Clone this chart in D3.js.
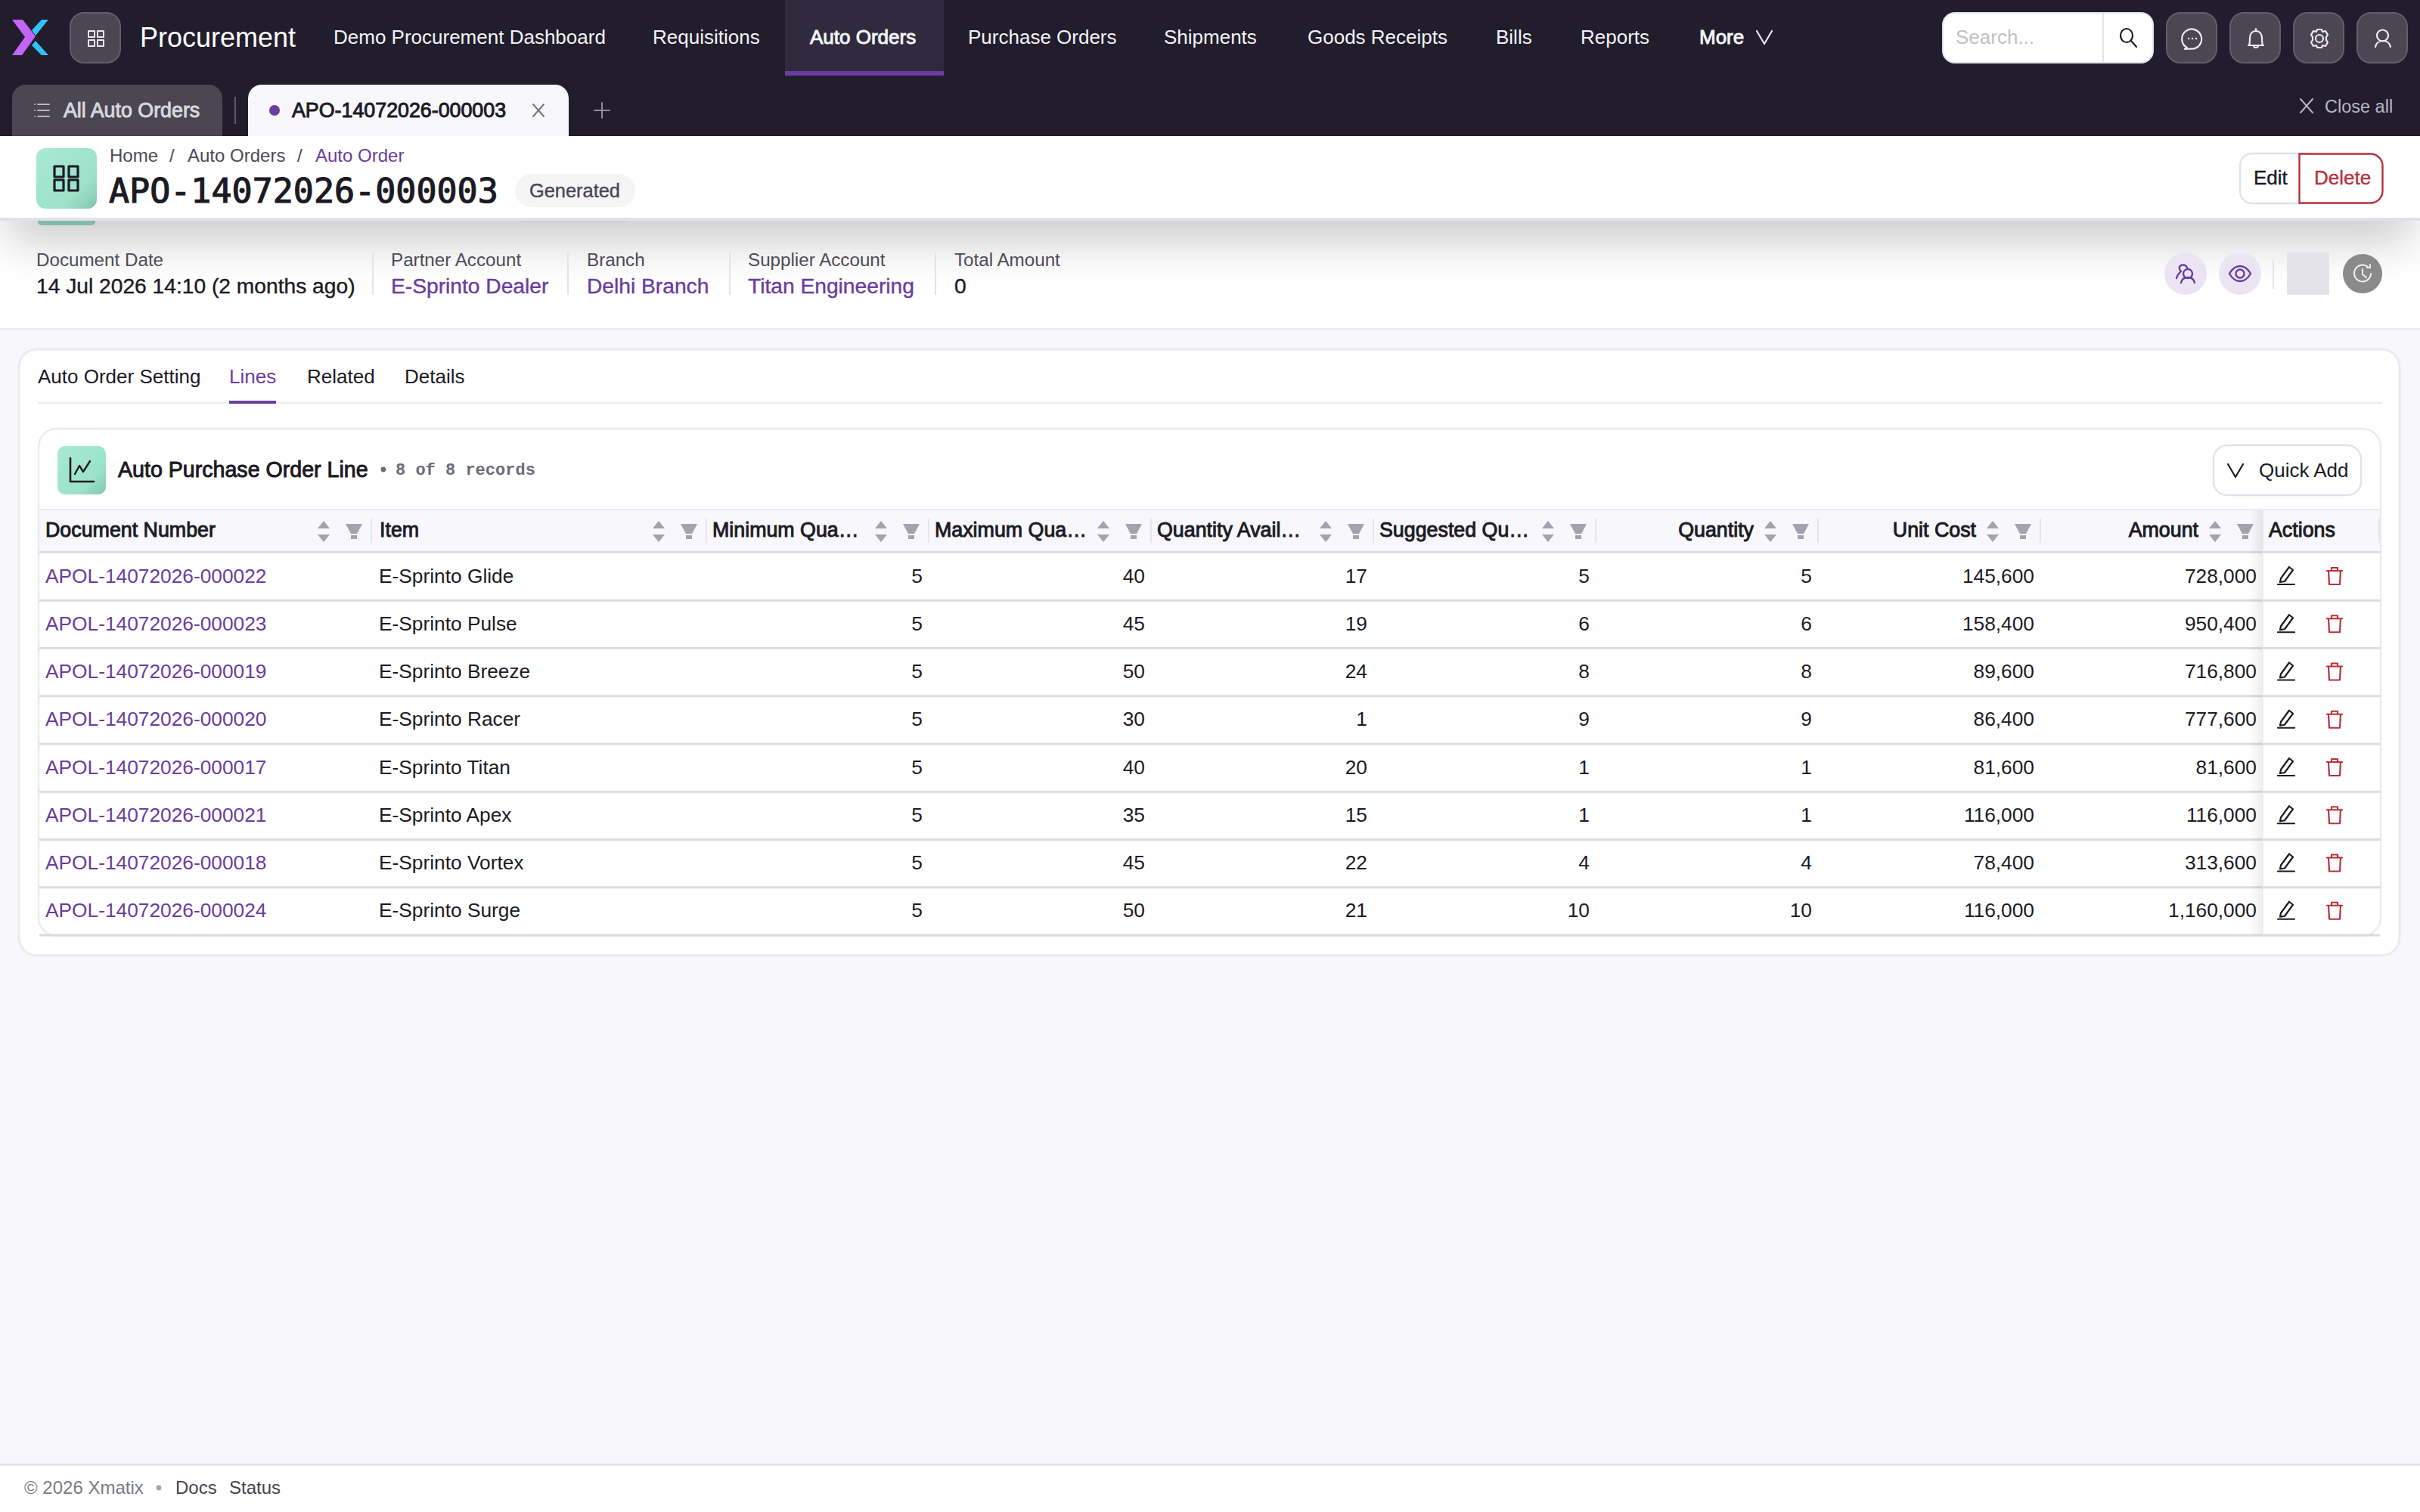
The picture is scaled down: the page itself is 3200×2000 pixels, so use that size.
<!DOCTYPE html>
<html>
<head>
<meta charset="utf-8">
<script src="https://cdn.jsdelivr.net/npm/d3@7"></script>
<style>
  html, body { margin: 0; padding: 0; background: #f7f7fc; }
  svg { display: block; }
  text { font-family: "Liberation Sans", Arial, sans-serif; white-space: pre; }
</style>
</head>
<body>
<div id="page"></div>
<script>
// table data
const columnTitles = ["Document Number", "Item", "Minimum Qua…", "Maximum Qua…", "Quantity Avail…", "Suggested Qu…", "Quantity", "Unit Cost", "Amount"];
const documentNumbers = ["APOL-14072026-000022", "APOL-14072026-000023", "APOL-14072026-000019", "APOL-14072026-000020", "APOL-14072026-000017", "APOL-14072026-000021", "APOL-14072026-000018", "APOL-14072026-000024"];
const items = ["E-Sprinto Glide", "E-Sprinto Pulse", "E-Sprinto Breeze", "E-Sprinto Racer", "E-Sprinto Titan", "E-Sprinto Apex", "E-Sprinto Vortex", "E-Sprinto Surge"];
const minimumQty = [5, 5, 5, 5, 5, 5, 5, 5];
const maximumQty = [40, 45, 50, 30, 40, 35, 45, 50];
const availableQty = [17, 19, 24, 1, 20, 15, 22, 21];
const suggestedQty = [5, 6, 8, 9, 1, 1, 4, 10];
const quantity = [5, 6, 8, 9, 1, 1, 4, 10];
const unitCost = [145600, 158400, 89600, 86400, 81600, 116000, 78400, 116000];
const amount = [728000, 950400, 716800, 777600, 81600, 116000, 313600, 1160000];

// page chrome text
const navItems = ["Demo Procurement Dashboard", "Requisitions", "Auto Orders", "Purchase Orders", "Shipments", "Goods Receipts", "Bills", "Reports", "More"];
const detailTabs = ["Auto Order Setting", "Lines", "Related", "Details"];
const infoLabels = ["Document Date", "Partner Account", "Branch", "Supplier Account", "Total Amount"];
const infoValues = ["14 Jul 2026 14:10 (2 months ago)", "E-Sprinto Dealer", "Delhi Branch", "Titan Engineering", "0"];

const W = 3200, H = 2000;
const purple = "#6a3d9e", ink = "#1c1a24", dark = "#211d2c", btn = "#4a4652", red = "#b5323f";

const svg = d3.select("#page").append("svg").attr("width", W).attr("height", H).attr("viewBox", `0 0 ${W} ${H}`);
const defs = svg.append("defs");

const tile = defs.append("linearGradient").attr("id", "tile").attr("x1", 0).attr("y1", 0).attr("x2", 1).attr("y2", 1);
tile.append("stop").attr("offset", "0%").attr("stop-color", "#a9e9d3");
tile.append("stop").attr("offset", "70%").attr("stop-color", "#9be2c9");
tile.append("stop").attr("offset", "100%").attr("stop-color", "#82c4ad");

defs.append("filter").attr("id", "soft").attr("filterUnits", "userSpaceOnUse")
  .attr("x", -200).attr("y", 100).attr("width", W + 400).attr("height", 500)
  .append("feGaussianBlur").attr("stdDeviation", 30);
defs.append("clipPath").attr("id", "infoClip").append("rect").attr("x", 0).attr("y", 292).attr("width", W).attr("height", 142);

const actShade = defs.append("linearGradient").attr("id", "actShade");
actShade.append("stop").attr("offset", "0%").attr("stop-color", "#000").attr("stop-opacity", 0);
actShade.append("stop").attr("offset", "100%").attr("stop-color", "#000").attr("stop-opacity", 0.07);

function rect(g, x, y, w, h, fill, rx, stroke, sw) {
  return g.append("rect").attr("x", x).attr("y", y).attr("width", w).attr("height", h)
    .attr("fill", fill).attr("rx", rx || 0).attr("stroke", stroke || "none").attr("stroke-width", sw || 0);
}
// the UI font has semi-bold and medium cuts, so thicken the regular one to keep its widths
const weightStroke = { 400: 0, 500: 0.4, 600: 0.95 };
function label(g, x, y, s, size, fill, weight, anchor) {
  const t = g.append("text").attr("x", x).attr("y", y).text(s).attr("font-size", size)
    .attr("fill", fill).attr("text-anchor", anchor || "start");
  const sw = weightStroke[weight || 400];
  if (sw) t.attr("stroke", fill).attr("stroke-width", sw);
  return t;
}
// line icon: path drawn around (0,0)
function icon(g, x, y, d, color, sw, fill) {
  return g.append("path").attr("transform", `translate(${x},${y})`).attr("d", d)
    .attr("fill", fill || "none").attr("stroke", color).attr("stroke-width", sw || 2.4)
    .attr("stroke-linecap", "round").attr("stroke-linejoin", "round");
}
const gridIcon = "M-10,-10h8v8h-8zM2,-10h8v8h-8zM-10,2h8v8h-8zM2,2h8v8h-8z";
const crossIcon = "M-8,-9L8,9M8,-9L-8,9";
const chevron = "M-10,-8L0,9L10,-8";

// ---------- top bar
const bar = svg.append("g");
rect(bar, 0, 0, W, 180, dark);
bar.append("path").attr("d", "M16,26h14l17,22l-18,25h-13l17,-24z").attr("fill", "#c264f5");
bar.append("path").attr("d", "M64,26h-9l-13,14l5,7zM42,60l5,-6l17,19h-9z").attr("fill", "#2fc3fb");
rect(bar, 93, 17, 66, 66, btn, 18, "#615d6a", 2);
icon(bar, 127, 51, gridIcon, "#e8e6ee", 2);
label(bar, 185, 62, "Procurement", 36, "#ffffff");

rect(bar, 1038, 0, 210, 100, "#2f2a3d");
rect(bar, 1038, 94, 210, 6, purple);
const navX = [441, 863, 1071, 1280, 1539, 1729, 1978, 2090, 2247];
navItems.forEach((s, i) => label(bar, navX[i], 58, s, 26, "#f4f3f7", i === 2 || i === 8 ? 600 : 400));
icon(bar, 2333, 49, chevron, "#e8e6ee", 2.2);

// search and round buttons
rect(bar, 2569, 17, 278, 66, "#ffffff", 16, "#e3e1ea", 2);
bar.append("line").attr("x1", 2781).attr("x2", 2781).attr("y1", 17).attr("y2", 83).attr("stroke", "#e3e1ea").attr("stroke-width", 2);
label(bar, 2586, 58, "Search...", 26, "#c2c0c6");
icon(bar, 2814, 50, "M4,4L11,12M6,-3a8,9 0 1,1 -16,0a8,9 0 1,1 16,0", ink, 2.2);
[2865, 2949, 3033, 3117].forEach(x => rect(bar, x, 17, 66, 66, btn, 18, "#615d6a", 2));
icon(bar, 2899, 51, "M-7,12a13,13 0 1,1 5,1.5l-8,0.5l3,-2z", "#eeedf2", 2.2);
icon(bar, 2899, 51, "M-5,0h.1M0,0h.1M5,0h.1", "#eeedf2", 2.4);
icon(bar, 2983, 51, "M-9,9h18c-1,-3 -1,-6 -1,-10c0,-5 -3,-9 -8,-9c-5,0 -8,4 -8,9c0,4 0,7 -1,10zM-9,9h-1M9,9h1M0,-10v-3M-3,9a3,3 0 0 0 6,0", "#eeedf2", 2.2);
icon(bar, 3067, 51, "M5,0a5,5 0 1,1 -10,0a5,5 0 1,1 10,0M-3,-12h6l1,3l4,-1l3,5l-2,3l0,4l2,3l-3,5l-4,-1l-1,3h-6l-1,-3l-4,1l-3,-5l2,-3l0,-4l-2,-3l3,-5l4,1z", "#eeedf2", 2.2);
icon(bar, 3151, 51, "M7,-4a7.5,7.5 0 1,1 -15,0a7.5,7.5 0 1,1 15,0M-10,11c1,-5 5,-8 10,-8c5,0 9,3 10,8", "#eeedf2", 2.2);

// open tabs
bar.append("path").attr("d", "M16,180v-50a18,18 0 0 1 18,-18h242a18,18 0 0 1 18,18v50z").attr("fill", btn);
icon(bar, 56, 146, "M-6,-8h15M-6,0h15M-6,8h15M-10,-8h.1M-10,0h.1M-10,8h.1", "#b9b6c2", 1.8);
label(bar, 84, 155, "All Auto Orders", 26.8, "#d8d6de", 600);
bar.append("line").attr("x1", 311).attr("x2", 311).attr("y1", 128).attr("y2", 164).attr("stroke", "#5c5866").attr("stroke-width", 2);
bar.append("path").attr("d", "M328,180v-50a18,18 0 0 1 18,-18h388a18,18 0 0 1 18,18v50z").attr("fill", "#f7f7fc");
bar.append("circle").attr("cx", 363).attr("cy", 146).attr("r", 7).attr("fill", purple);
label(bar, 386, 155, "APO-14072026-000003", 26.8, ink, 600);
icon(bar, 712, 146, "M-7,-8L7,8M7,-8L-7,8", "#77737f", 2);
icon(bar, 796, 146, "M0,-10V10M-10,0H10", "#8f8c98", 2);
icon(bar, 3050, 140, crossIcon, "#b9b6c2", 2);
label(bar, 3074, 149, "Close all", 23.5, "#b9b6c2");

// ---------- info strip under the sticky header
const info = svg.append("g");
rect(info, 0, 292, W, 142, "#ffffff");
info.append("g").attr("clip-path", "url(#infoClip)").append("rect")
  .attr("x", 10).attr("y", 240).attr("width", W - 20).attr("height", 80)
  .attr("fill", "#000").attr("opacity", 0.2).attr("filter", "url(#soft)");
rect(info, 0, 434, W, 3, "#ecebf2");
info.append("path").attr("d", "M50,292h76v1a5,5 0 0 1 -5,5h-66a5,5 0 0 1 -5,-5z").attr("fill", "#80b9a6");
rect(info, 688, 292, 140, 3, "#d0d0d3", 1.5);
const infoX = [48, 517, 776, 989, 1262];
infoLabels.forEach((s, i) => label(info, infoX[i], 352, s, 24.2, "#4e4a58"));
infoValues.forEach((s, i) => label(info, infoX[i], 388, s, 28.2, i === 0 || i === 4 ? ink : purple, 500));
[493, 751, 965, 1237].forEach(x => rect(info, x - 1, 334, 2, 56, "#e4e2ea"));
[2890, 2962].forEach(x => info.append("circle").attr("cx", x).attr("cy", 362).attr("r", 28).attr("fill", "#ebe5f3"));
icon(info, 2890, 362, "M9,0a6,6 0 1,1 -12,0a6,6 0 1,1 12,0M-6,12c1,-5 4,-7 9,-7c5,0 8,2 9,7M2,-8c-1,-4 -8,-5 -10,-1c-1,3 1,5 2,6c-2,2 -5,4 -6,9", purple, 2.4);
icon(info, 2962, 362, "M-14,0c4,-7 9,-10 14,-10c5,0 10,3 14,10c-4,7 -9,10 -14,10c-5,0 -10,-3 -14,-10zM5.5,0a5.5,5.5 0 1,1 -11,0a5.5,5.5 0 1,1 11,0", purple, 2.4);
rect(info, 3005, 342, 2, 40, "#e6e4ec");
rect(info, 3024, 334, 56, 56, "#e5e3ea");
info.append("circle").attr("cx", 3124).attr("cy", 362).attr("r", 26).attr("fill", "#8a8a8a");
icon(info, 3124, 362, "M7,-9a11,11 0 1,0 4,9M0,-6v7l5,4M10,-12v4h-4", "#f1f1f1", 2);

// ---------- sticky page header
const head = svg.append("g");
rect(head, 0, 180, W, 108, "#ffffff");
rect(head, 0, 288, W, 4, "#e2e0e9");
rect(head, 48, 196, 80, 80, "url(#tile)", 12);
icon(head, 88, 236, "M-16,-16h12v14h-12zM3,-16h12v14h-12zM-16,2h12v14h-12zM3,2h12v14h-12z", ink, 3.2);
label(head, 145, 214, "Home", 24, "#4e4a58");
label(head, 224, 214, "/", 24, "#4e4a58");
label(head, 248, 214, "Auto Orders", 24, "#4e4a58");
label(head, 393, 214, "/", 24, "#4e4a58");
label(head, 417, 214, "Auto Order", 24, purple);
label(head, 144, 268, "APO-14072026-000003", 45, ink).style("font-family", "'DejaVu Sans Mono', monospace")
  .attr("stroke", ink).attr("stroke-width", 1.2);
rect(head, 681, 230, 159, 44, "#f5f5f6", 22);
label(head, 700, 261, "Generated", 25.4, "#4a4655", 500);
rect(head, 2962, 203, 100, 66, "#ffffff", 16, "#e3e1ea", 2.4);
label(head, 2980, 244, "Edit", 26, ink, 500);
head.append("path").attr("d", "M3040.5,203.5h94a16,16 0 0 1 16,16v33a16,16 0 0 1 -16,16h-94z").attr("fill", "#ffffff").attr("stroke", red).attr("stroke-width", 2.4);
label(head, 3060, 244, "Delete", 26, red, 500);

// ---------- card with tabs
const card = svg.append("g");
rect(card, 25, 462, 3148, 802, "#ffffff", 24, "#ebeaf1", 3);
const tabX = [50, 303, 406, 535];
detailTabs.forEach((s, i) => label(card, tabX[i], 506.5, s, 26, i === 1 ? purple : ink));
rect(card, 50, 532, 3100, 2, "#ecebf1");
rect(card, 303, 530, 62, 4, purple);

// ---------- lines table
const table = card.append("g");
rect(table, 51, 567, 3097, 671, "#ffffff", 24, "#ebeaf1", 2.5);
rect(table, 76, 590, 64, 64, "url(#tile)", 10);
icon(table, 108, 622, "M-15,-16V15H16", ink, 2.6);
icon(table, 108, 622, "M-9,5L-3,-6L2,2L11,-12", ink, 2.4);
label(table, 156, 631, "Auto Purchase Order Line", 28.6, ink, 600);
table.append("circle").attr("cx", 507).attr("cy", 621).attr("r", 3.4).attr("fill", "#6e6a78");
label(table, 523, 628, "8 of 8 records", 22, "#6e6a78").style("font-family", "'Liberation Mono', monospace")
  .attr("font-weight", 700);
rect(table, 2927, 589, 195, 66, "#ffffff", 18, "#e3e1ea", 2.4);
icon(table, 2956, 622, chevron, ink, 2.2);
label(table, 2987, 631, "Quick Add", 26, ink);

// column and row scales
const colWidths = [441, 443, 294, 294, 294, 294, 294, 294, 294];
const colEdges = [50, ...d3.cumsum(colWidths).map(d => 50 + d)];
const colEnd = i => colEdges[i + 1];
const rowY = d3.scaleBand().domain(d3.range(documentNumbers.length)).range([731, 1237]);
const fmt = d3.format(",");
const actionsX = colEdges[9];

rect(table, 52, 675, 3095, 56, "#f7f7fc");
rect(table, 52, 673, 3095, 2, "#eceaf1");
rect(table, 52, 729, 3095, 3, "#dcdcde");

const rightAligned = [false, false, false, false, false, false, true, true, true];
columnTitles.forEach((s, i) => {
  const end = colEnd(i);
  if (rightAligned[i]) label(table, end - 85, 710, s, 26.8, ink, 600, "end");
  else label(table, colEdges[i] + (i === 0 ? 10 : i === 1 ? 11 : 8), 710, s, 26.8, ink, 600);
  table.append("path").attr("transform", `translate(${end - 63},703)`).attr("d", "M0,-14L8,-4H-8zM0,14L8,4H-8z").attr("fill", "#a5a1ae");
  table.append("path").attr("transform", `translate(${end - 23},702)`).attr("d", "M-11,-9H11L4,4H-4zM-4,6H4V11H-4z").attr("fill", "#a5a1ae");
  rect(table, end - 1, 686, 2, 32, "#e6e4ec");
});
label(table, actionsX + 8, 710, "Actions", 26.8, ink, 600);
rect(table, 3145, 686, 2, 32, "#e6e4ec");

const rows = table.selectAll("g.row").data(documentNumbers).enter().append("g").attr("class", "row")
  .attr("transform", (d, i) => `translate(0,${rowY(i)})`);
rows.append("rect").attr("x", 52).attr("y", rowY.bandwidth() - 1.5).attr("width", 3095).attr("height", 3).attr("fill", "#dcdcde");
rows.append("text").attr("x", colEdges[0] + 10).attr("y", 39.5).attr("font-size", 26.3).attr("fill", purple).text(d => d);
rows.append("text").attr("x", colEdges[1] + 10).attr("y", 39.5).attr("font-size", 26.3).attr("fill", ink).text((d, i) => items[i]);

const numericCols = [minimumQty, maximumQty, availableQty, suggestedQty, quantity, unitCost, amount];
numericCols.forEach((values, c) => {
  rows.append("text").attr("x", colEnd(c + 2) - 8).attr("y", 39.5).attr("font-size", 26.3)
    .attr("text-anchor", "end").attr("fill", ink).text((d, i) => fmt(values[i]));
});
rows.each(function () {
  const r = d3.select(this);
  icon(r, 3023, 30, "M-7,4L4,-11L9,-7L-2,8L-8,9zM-11,12H11", ink, 2.2);
  icon(r, 3087, 31, "M-8,-7H8L7,11H-7zM-10,-7H10M-4,-7V-11H4V-7", red, 2.2);
});

// frozen actions column edge
rect(table, actionsX - 18, 675, 18, 562, "url(#actShade)");
rect(table, actionsX - 1, 675, 1.5, 562, "#e6e5ea");

// ---------- footer
const foot = svg.append("g");
rect(foot, 0, 1936, W, 64, "#ffffff");
rect(foot, 0, 1936, W, 2.5, "#e2e0e9");
label(foot, 32, 1976, "© 2026 Xmatix", 24, "#7d7987");
foot.append("circle").attr("cx", 210).attr("cy", 1968).attr("r", 3.4).attr("fill", "#a5a2ac");
label(foot, 232, 1976, "Docs", 24, "#46424f");
label(foot, 303, 1976, "Status", 24, "#46424f");
</script>
</body>
</html>
